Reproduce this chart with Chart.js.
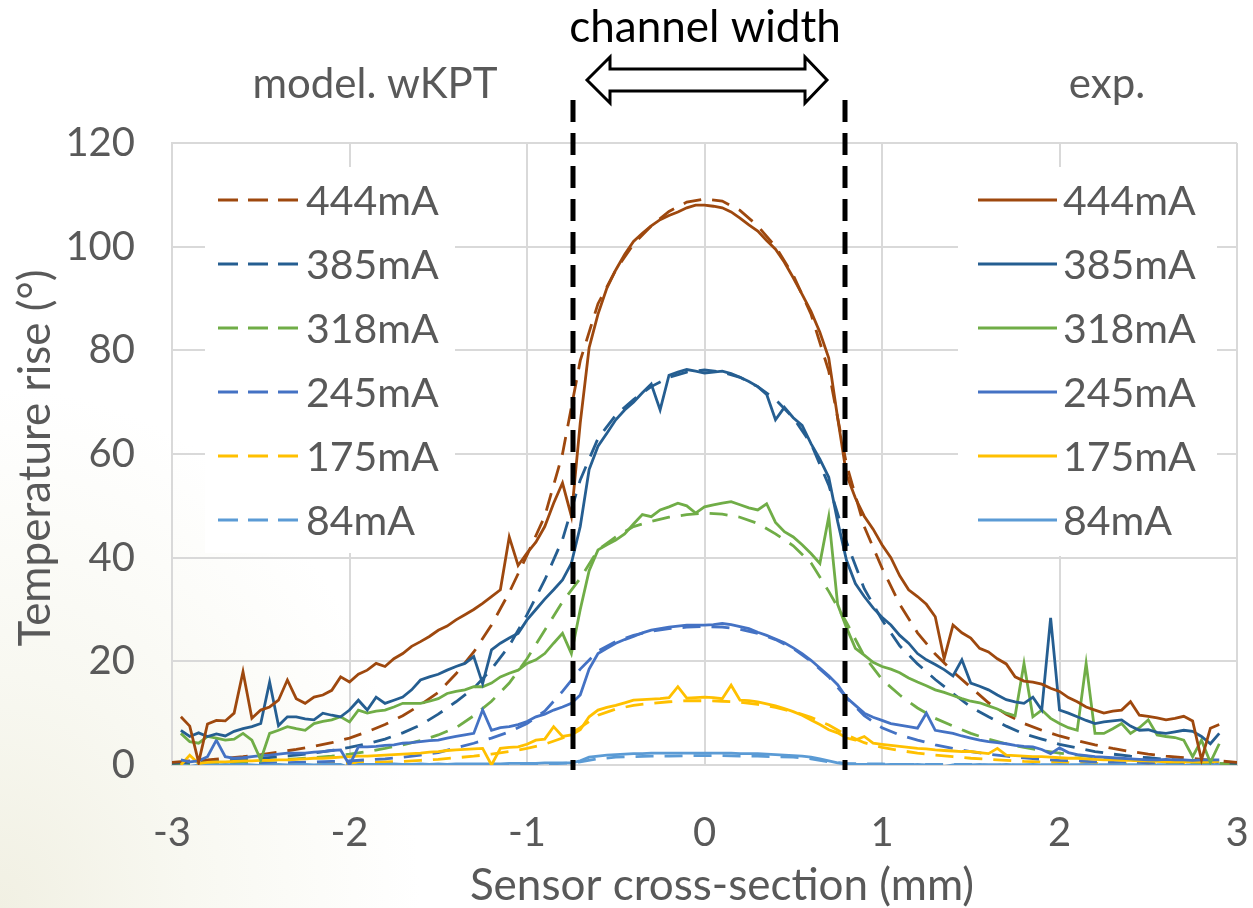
<!DOCTYPE html>
<html>
<head>
<meta charset="utf-8">
<script src="https://cdn.jsdelivr.net/npm/chart.js@4.4.1/dist/chart.umd.min.js"></script>
<style>
  html, body { margin: 0; padding: 0; }
  body {
    width: 1253px; height: 908px; overflow: hidden;
    background: radial-gradient(ellipse 420px 520px at 0 100%, #f1f0e3 0%, #f8f8f1 45%, #ffffff 100%);
  }
  canvas { display: block; }
</style>
</head>
<body>
<canvas id="chart" width="1253" height="908"></canvas>
<script>
// ## data ##
const currents = ["444mA", "385mA", "318mA", "245mA", "175mA", "84mA"];
const colors = ["#9E480E", "#255E91", "#70AD47", "#4472C4", "#FFC000", "#5B9BD5"];

const xTicks = [-3, -2, -1, 0, 1, 2, 3];
const yTicks = [0, 20, 40, 60, 80, 100, 120];
const channelEdges = [-0.74, 0.79];

// measured positions (mm)
const xExp = [
  -2.95, -2.9, -2.85, -2.8, -2.75, -2.7, -2.65, -2.6, -2.55, -2.5,
  -2.45, -2.4, -2.35, -2.3, -2.25, -2.2, -2.15, -2.1, -2.05, -2.0,
  -1.95, -1.9, -1.85, -1.8, -1.75, -1.7, -1.65, -1.6, -1.55, -1.5,
  -1.45, -1.4, -1.35, -1.3, -1.25, -1.2, -1.15, -1.1, -1.05, -1.0,
  -0.95, -0.9, -0.85, -0.8, -0.75, -0.7, -0.65, -0.6, -0.55, -0.5,
  -0.45, -0.4, -0.35, -0.3, -0.25, -0.2, -0.15, -0.1, -0.05, 0.0,
  0.05, 0.1, 0.15, 0.2, 0.25, 0.3, 0.35, 0.4, 0.45, 0.5,
  0.55, 0.6, 0.65, 0.7, 0.75, 0.8, 0.85, 0.9, 0.95, 1.0,
  1.05, 1.1, 1.15, 1.2, 1.25, 1.3, 1.35, 1.4, 1.45, 1.5,
  1.55, 1.6, 1.65, 1.7, 1.75, 1.8, 1.85, 1.9, 1.95, 2.0,
  2.05, 2.1, 2.15, 2.2, 2.25, 2.3, 2.35, 2.4, 2.45, 2.5,
  2.55, 2.6, 2.65, 2.7, 2.75, 2.8, 2.85, 2.9
];

// model positions (mm)
const xModel = [
  -3.0, -2.9, -2.8, -2.7, -2.6, -2.5, -2.4, -2.3, -2.2, -2.1,
  -2.0, -1.9, -1.8, -1.7, -1.6, -1.5, -1.4, -1.3, -1.2, -1.1,
  -1.0, -0.9, -0.8, -0.7, -0.6, -0.5, -0.4, -0.3, -0.2, -0.1,
  0.0,
  0.1, 0.2, 0.3, 0.4, 0.5, 0.6, 0.7, 0.8, 0.9, 1.0,
  1.1, 1.2, 1.3, 1.4, 1.5, 1.6, 1.7, 1.8, 1.9, 2.0,
  2.1, 2.2, 2.3, 2.4, 2.5, 2.6, 2.7, 2.8, 2.9, 3.0
];

// exp. (solid)
const exp444 = [
  9.3, 7.5, 0.5, 7.9, 8.6, 8.5, 10, 18, 9, 10.6,
  11.2, 12.5, 16.4, 12.8, 11.9, 13.1, 13.5, 14.4, 17, 16,
  17.5, 18.3, 19.6, 19.0, 20.5, 21.5, 22.9, 23.8, 24.8, 26.0,
  26.8, 28, 29, 30, 31.2, 32.5, 33.8, 44, 38.5, 40.9,
  43, 46, 50.5, 54.4, 48, 66,
  80.5, 87, 92, 95.5, 98.5, 101, 102.6, 104, 105.2, 106,
  106.7, 107.5, 108, 108, 107.8, 107.5, 106.7, 105.5, 104.2, 103,
  101.2, 99.5, 97, 94, 90.8, 87.5, 83.5, 78.5, 67, 56, 51.5,
  48, 45.5, 42.5, 40, 36.5, 33.8, 32.5, 31, 28.6, 20.5,
  27, 25.5, 24.5, 22.5, 21.8, 20.5, 19.5, 17, 16.2, 16,
  15.6, 14.8, 14.2, 13, 12.2, 11.2, 10.6, 10, 10.4, 10.6,
  12.2, 9.6, 9.4, 9.1, 8.7, 9, 9.4, 8.5, 1, 7.1, 7.8
];
const exp385 = [
  6.7, 5.5, 6.2, 5.5, 6.0, 5.6, 6.5, 7.0, 7.4, 8.0,
  16, 7.6, 9.3, 9.3, 8.9, 8.7, 10, 9.6, 9.3, 10.6,
  12.5, 10.6, 13.1, 11.9, 12.5, 13.1, 14.5, 16.4, 17, 17.5,
  18.3, 19, 19.6, 20.9, 15.7, 22.2, 23.5, 24.5, 25.4, 28,
  30, 32, 33.8, 35.7, 38.9, 46,
  57, 61.5, 64, 66.6, 68.5, 70, 71.8, 73.5, 68.5, 75.2,
  75.8, 76.3, 76, 75.6, 75.8, 76, 75.5, 74.8, 74, 73,
  71.5, 66.6, 69, 67, 65.5, 62, 59, 55.5, 47, 39.5, 35,
  32.5, 30.3, 28.5, 27, 25, 23.5, 21.5, 20.3, 19.4, 18.4,
  17.2, 20.3, 15.8, 15.2, 14.5, 13.5, 12.6, 12.2, 11.9, 13.1,
  10.6, 28.4, 10.6, 10, 9.3, 8.6, 8, 8.3, 8.5, 8.7,
  7.5, 6.7, 6.8, 6.3, 6.1, 6.4, 6.7, 6.5, 5.5, 4.1, 6.1
];
const exp318 = [
  6.1, 4.5, 4.2, 5.5, 5.2, 4.8, 5.0, 6.1, 4.8, 1,
  6.1, 6.7, 7.4, 7.0, 6.7, 8, 8.4, 8.7, 9.3, 8.3,
  10.6, 10, 10.4, 10.6, 11.2, 11.9, 11.9, 11.9, 12.3, 12.8,
  13.8, 14.2, 14.5, 15.1, 15.1, 15.8, 17, 17.7, 18.3, 19.6,
  20.3, 21.5, 23.5, 25.4, 21.5, 30,
  37.5, 41.5, 42.5, 43.4, 44.6, 46.5, 48.3, 47.9, 49.2, 49.8,
  50.5, 50, 48.6, 49.8, 50.2, 50.5, 50.8, 50.2, 49.6, 49.2,
  50.4, 46.8, 45, 44, 42.5, 40.8, 38.9, 47.9, 31, 26.5, 22.5,
  21.2, 19.8, 19, 18.5, 17.8, 16.8, 16, 15.3, 14.5, 14,
  13.4, 12.8, 12.3, 12, 11.4, 10.8, 10, 9.5, 19.6, 9.3,
  10.6, 9, 8, 7.2, 6.7, 19.6, 6.1, 6.1, 7, 8,
  6.1, 7.2, 8.7, 5.8, 5.5, 5.3, 4.8, 1.6, 4.8, 0.5, 4.1
];
const exp245 = [
  1.0, 0.6, 0.8, 1.6, 4.8, 1.6, 1.3, 1.4, 1.6, 1.8,
  1.9, 2.1, 2.3, 2.3, 2.3, 2.5, 2.6, 2.8, 2.9, 0,
  3.5, 3.5, 3.6, 3.8, 3.9, 4.2, 4.3, 4.5, 4.7, 4.8,
  5.2, 5.5, 5.8, 6.1, 10.6, 6.7, 7.2, 7.4, 7.8, 8.4,
  9.3, 9.8, 10.6, 11.2, 11.9, 13.5,
  18.5, 21.5, 22.5, 23.5, 24.2, 24.8, 25.5, 26, 26.3, 26.6,
  26.8, 27, 27, 27, 27.1, 27.3, 27.1, 26.7, 26.3, 25.6,
  25, 24.3, 23.6, 22.6, 21.5, 20.2, 18.7, 17.2, 15.5, 13, 11.5,
  10, 9.2, 8.6, 8, 7.7, 7.4, 7.1, 10, 6.7, 6.4,
  6.1, 5.6, 5.2, 4.8, 4.5, 4.3, 4.1, 3.8, 3.6, 3.5,
  3.0, 2.2, 3.3, 2.4, 2.0, 1.8, 1.6, 1.5, 1.4, 1.3,
  1.2, 1.1, 1.0, 1.0, 1.1, 1.0, 1.0, 0.9, 1.0, 1.0, 1.0
];
const exp175 = [
  0, 1.9, 0.3, 0.5, 0.6, 0.6, 0.7, 0.8, 0.8, 0.9,
  0.9, 1.0, 1.0, 1.1, 1.2, 1.3, 1.3, 1.4, 1.5, 1.6,
  1.7, 1.7, 1.8, 1.9, 2.0, 2.1, 2.2, 2.3, 2.5, 2.6,
  2.8, 2.9, 3.0, 3.1, 3.2, 0, 3.2, 3.4, 3.5, 4.0,
  4.8, 5.0, 7.4, 5.5, 5.8, 6.8,
  9.3, 10.6, 11.1, 11.5, 12, 12.5, 12.6, 12.7, 12.8, 13,
  15.1, 12.9, 13, 13.1, 13, 12.8, 15.4, 12.5, 12.4, 12.2,
  11.8, 11.4, 10.9, 10.3, 9.6, 8.7, 7.8, 6.8, 6.2, 5.2, 4.8,
  5.5, 4.2, 4.0, 3.8, 3.6, 3.4, 3.2, 3.1, 2.9, 2.8,
  2.7, 2.6, 2.6, 2.4, 2.2, 3.2, 1.9, 1.8, 1.7, 1.6,
  1.6, 1.5, 1.4, 1.3, 1.3, 1.2, 1.1, 1.0, 1.0, 0.9,
  0.9, 0.8, 0.8, 0.7, 0.6, 0.6, 0.6, 0.6, 0.6, 0.6, 0.7
];
const exp84 = [
  0.1, -0.3, 0.0, 0.1, 0.0, 0.1, 0.0, 0.1, 0.0, -0.1,
  0.0, 0.1, 0.0, 0.1, 0.1, 0.0, 0.1, 0.1, 0.1, -0.5,
  0.1, 0.1, 0.1, 0.1, 0.2, 0.1, 0.1, 0.2, 0.1, 0.2,
  0.1, 0.2, 0.2, 0.2, 0.2, 0.2, 0.2, 0.3, 0.3, 0.3,
  0.3, 0.4, 0.4, 0.4, 0.4, 0.8,
  1.5, 1.7, 1.9, 2.0, 2.1, 2.2, 2.2, 2.3, 2.3, 2.3,
  2.3, 2.3, 2.3, 2.3, 2.3, 2.3, 2.3, 2.2, 2.2, 2.2,
  2.1, 2.0, 1.9, 1.8, 1.7, 1.5, 1.2, 0.8, 0.4, 0.2, 0.1,
  0.1, 0.1, 0.0, 0.1, 0.1, 0.0, 0.1, 0.0, 0.1, -0.3,
  0.0, 0.1, 0.0, 0.1, 0.0, 0.0, 0.1, 0.0, 0.0, 0.1,
  0.0, 0.0, 0.1, 0.0, 0.0, 0.1, 0.0, 0.0, 0.0, 0.1,
  0.0, 0.0, -0.2, 0.0, 0.0, 0.0, -0.1, 0.0, -0.1, 0.0, 0.0
];

// model. wKPT (dashed)
const model444 = [
  0.5, 0.8, 1.0, 1.3, 1.6, 2.0, 2.5, 3.0, 3.6, 4.3,
  5.2, 6.4, 7.8, 9.5, 11.6, 14, 17.6, 21.8, 27, 33.3,
  40.5, 48, 60, 78, 89, 95.5, 100.5, 104, 106.8, 108.6,
  109.2,
  108.8, 107, 104, 100, 94.5, 87, 76, 58, 46, 38,
  31, 25.5, 21.4, 18, 15, 12, 9.8, 8, 6.7, 5.6,
  4.7, 3.9, 3.2, 2.6, 2.1, 1.7, 1.4, 1.1, 0.8, 0.5
];
const model385 = [
  0.3, 0.5, 0.6, 0.8, 1.0, 1.3, 1.6, 1.9, 2.3, 2.8,
  3.4, 4.1, 5.0, 6.2, 7.7, 9.8, 12.2, 14.8, 18.5, 23,
  29, 35.7, 43.5, 55, 63, 67.5, 70.5, 73, 74.8, 75.8,
  76.2,
  75.8, 74.8, 73, 70.5, 67, 62, 54, 43, 34, 28,
  23, 19.5, 16.5, 13.8, 11.2, 9.3, 7.5, 6, 5, 4,
  3.3, 2.6, 2.1, 1.7, 1.4, 1.1, 0.9, 0.7, 0.5, 0.3
];
const model318 = [
  0.2, 0.3, 0.4, 0.5, 0.6, 0.8, 1.0, 1.2, 1.4, 1.7,
  2.1, 2.6, 3.2, 3.9, 4.7, 5.8, 7.2, 9.5, 12.3, 15.8,
  20.5, 26, 31.5, 36, 41.5, 44, 46, 47, 47.8, 48.3,
  48.6,
  48.4, 47.8, 46.6, 44.6, 42.3, 39, 33.5, 27.5, 21, 16.5,
  13.5, 11, 9, 7.5, 6.1, 5, 4.1, 3.4, 2.8, 2.3,
  1.9, 1.5, 1.2, 1.0, 0.8, 0.6, 0.5, 0.4, 0.3, 0.2
];
const model245 = [
  0.1, 0.1, 0.2, 0.2, 0.3, 0.3, 0.4, 0.5, 0.6, 0.7,
  0.8, 1.0, 1.2, 1.5, 1.9, 2.4, 3.3, 4.2, 5.2, 6.4,
  8, 10.4, 14.2, 18.5, 22, 23.8, 25, 25.8, 26.3, 26.6,
  26.7,
  26.6, 26.2, 25.4, 24.2, 22.5, 20, 17, 13, 9.5, 7.2,
  5.8, 4.8, 3.9, 3.2, 2.6, 2.1, 1.7, 1.4, 1.1, 0.9,
  0.8, 0.6, 0.5, 0.4, 0.3, 0.3, 0.2, 0.2, 0.1, 0.1
];
const model175 = [
  0, 0.1, 0.1, 0.1, 0.1, 0.2, 0.2, 0.2, 0.3, 0.3,
  0.4, 0.5, 0.6, 0.7, 0.9, 1.1, 1.4, 1.7, 2.1, 2.6,
  3.2, 4.0, 5.2, 7.2, 9.6, 10.8, 11.5, 11.9, 12.2, 12.4,
  12.4,
  12.3, 12.1, 11.7, 11.1, 10.3, 9.2, 7.7, 5.8, 4.3, 3.4,
  2.8, 2.3, 1.9, 1.6, 1.3, 1.1, 0.9, 0.7, 0.6, 0.5,
  0.4, 0.3, 0.3, 0.2, 0.2, 0.1, 0.1, 0.1, 0.1, 0
];
const model84 = [
  0, 0, 0, 0, 0, 0, 0, 0, 0, 0,
  0, 0, 0, 0, 0, 0.1, 0.1, 0.1, 0.1, 0.1,
  0.2, 0.2, 0.3, 0.6, 1.2, 1.5, 1.6, 1.7, 1.7, 1.8,
  1.8,
  1.8, 1.7, 1.7, 1.6, 1.5, 1.2, 0.6, 0.3, 0.2, 0.2,
  0.1, 0.1, 0.1, 0.1, 0.1, 0, 0, 0, 0, 0,
  0, 0, 0, 0, 0, 0, 0, 0, 0, 0
];

const expSeries = [exp444, exp385, exp318, exp245, exp175, exp84];
const modelSeries = [model444, model385, model318, model245, model175, model84];

const grey = "#595959";
const font = "Lato";

function pairs(xs, ys) {
  return xs.map((x, i) => ({ x: x, y: ys[i] }));
}

const datasets = [];
expSeries.forEach((ys, i) => {
  datasets.push({
    label: "exp. " + currents[i],
    data: pairs(xExp, ys),
    borderColor: colors[i],
    borderWidth: 2.8,
  });
});
modelSeries.forEach((ys, i) => {
  datasets.push({
    label: "model " + currents[i],
    data: pairs(xModel, ys),
    borderColor: colors[i],
    borderWidth: 2.8,
    borderDash: [18, 11],
  });
});

// legends, channel marks and titles drawn on top of the chart
const decorations = {
  id: "decorations",
  beforeDatasetsDraw(chart) {
    const ctx = chart.ctx;
    ctx.save();
    ctx.fillStyle = "#ffffff";
    ctx.fillRect(205, 167, 250, 386);
    ctx.fillRect(958, 167, 259, 389);

    ctx.font = "41px " + font;
    ctx.textBaseline = "middle";
    ctx.textAlign = "left";
    ctx.lineWidth = 3;
    currents.forEach((name, i) => {
      const y = 200 + i * 64;
      ctx.strokeStyle = colors[i];
      ctx.setLineDash([20, 10]);
      ctx.beginPath();
      ctx.moveTo(218, y);
      ctx.lineTo(298, y);
      ctx.stroke();
      ctx.setLineDash([]);
      ctx.beginPath();
      ctx.moveTo(978, y);
      ctx.lineTo(1057, y);
      ctx.stroke();
      ctx.fillStyle = grey;
      ctx.fillText(name, 306, y + 2);
      ctx.fillText(name, 1063, y + 2);
    });
    ctx.restore();
  },
  afterDatasetsDraw(chart) {
    const ctx = chart.ctx;
    const xs = chart.scales.x;
    ctx.save();

    // channel edges
    ctx.strokeStyle = "#000000";
    ctx.lineWidth = 5;
    ctx.setLineDash([22, 11]);
    channelEdges.forEach((v) => {
      const px = Math.round(xs.getPixelForValue(v));
      ctx.beginPath();
      ctx.moveTo(px, 100);
      ctx.lineTo(px, 770);
      ctx.stroke();
    });
    ctx.setLineDash([]);

    // double arrow
    ctx.lineWidth = 3;
    ctx.fillStyle = "#ffffff";
    ctx.beginPath();
    ctx.moveTo(587, 80);
    ctx.lineTo(610, 57);
    ctx.lineTo(610, 69);
    ctx.lineTo(805, 69);
    ctx.lineTo(805, 57);
    ctx.lineTo(827, 80);
    ctx.lineTo(805, 103);
    ctx.lineTo(805, 91);
    ctx.lineTo(610, 91);
    ctx.lineTo(610, 103);
    ctx.closePath();
    ctx.fill();
    ctx.stroke();

    // titles
    ctx.textAlign = "center";
    ctx.textBaseline = "alphabetic";
    ctx.font = "44px " + font;
    ctx.fillStyle = "#000000";
    ctx.fillText("channel width", 705, 42);
    ctx.font = "42px " + font;
    ctx.fillStyle = grey;
    ctx.fillText("model. wKPT", 375, 98);
    ctx.fillText("exp.", 1107, 98);

    ctx.font = "44px " + font;
    ctx.textBaseline = "middle";
    ctx.fillText("Sensor cross-section (mm)", 722, 886);
    ctx.translate(36, 458);
    ctx.rotate(-Math.PI / 2);
    ctx.fillText("Temperature rise (°)", 0, 0);
    ctx.restore();
  },
};

function draw() {
  new Chart(document.getElementById("chart").getContext("2d"), {
    type: "line",
    data: { datasets: datasets },
    options: {
      responsive: false,
      animation: false,
      devicePixelRatio: 1,
      layout: { padding: { top: 143, right: 16, bottom: 0, left: 0 } },
      elements: { point: { radius: 0 }, line: { tension: 0 } },
      plugins: { legend: { display: false }, tooltip: { enabled: false } },
      scales: {
        x: {
          type: "linear",
          min: -3,
          max: 3,
          afterBuildTicks: (s) => { s.ticks = xTicks.map((v) => ({ value: v })); },
          afterFit: (s) => { s.height = 143; },
          // invisible tick marks push the labels down without widening the side padding
          grid: { color: "#d9d9d9", lineWidth: 2, drawTicks: true, tickLength: 44, tickColor: "rgba(0,0,0,0)" },
          border: { color: "#d9d9d9", width: 2 },
          ticks: { padding: 0, color: grey, font: { family: font, size: 40 }, maxRotation: 0 },
        },
        y: {
          min: 0,
          max: 120,
          afterBuildTicks: (s) => { s.ticks = yTicks.map((v) => ({ value: v })); },
          afterFit: (s) => { s.width = 172; },
          grid: { color: "#d9d9d9", lineWidth: 2, drawTicks: false },
          border: { color: "#d9d9d9", width: 2 },
          ticks: { padding: 37, color: grey, font: { family: font, size: 40 } },
        },
      },
    },
    plugins: [decorations],
  });
}

if (document.fonts && document.fonts.load) {
  document.fonts.load("40px " + font).then(draw, draw);
} else {
  draw();
}
</script>
</body>
</html>
